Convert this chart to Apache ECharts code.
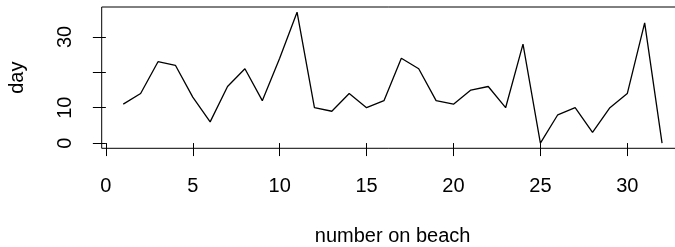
<!DOCTYPE html>
<html>
<head>
<meta charset="utf-8">
<script src="https://cdn.jsdelivr.net/npm/echarts@6/dist/echarts.min.js"></script>
<style>
html,body{margin:0;padding:0;background:#fff;}
#chart{width:675px;height:247px;}
</style>
</head>
<body>
<div id="chart"></div>
<script>
const beachNumbers = [1,2,3,4,5,6,7,8,9,10,11,12,13,14,15,16,17,18,19,20,21,22,23,24,25,26,27,28,29,30,31,32];
const dayValues = [11,14,23,22,13,6,16,21,12,24,37,10,9,14,10,12,24,21,12,11,15,16,10,28,0,8,10,3,10,14,34,0];
const xTicks = [0,5,10,15,20,25,30];
const yTicks = [0,10,20,30];
const yTickLabels = [0,10,30];

const points = beachNumbers.map((x, i) => [x, dayValues[i]]);
const font = 'Liberation Sans, Arial, sans-serif';

const chart = echarts.init(document.getElementById('chart'), null, {renderer: 'canvas'});
chart.setOption({
  animation: false,
  backgroundColor: '#fff',
  grid: {
    left: 101.7, top: 7, width: 581.9, height: 141.3,
    show: true, borderColor: '#000', borderWidth: 1, backgroundColor: 'transparent',
    containLabel: false,
    outerBoundsMode: 'none'
  },
  xAxis: {
    type: 'value', min: -0.24, max: 33.24,
    name: 'number on beach', nameLocation: 'middle', nameGap: 78,
    nameTextStyle: {fontFamily: font, fontSize: 20, color: '#000'},
    axisLine: {show: false},
    axisTick: {show: true, length: 13, lineStyle: {color: '#000', width: 1}, customValues: xTicks},
    axisLabel: {show: true, margin: 28, fontFamily: font, fontSize: 20, color: '#000', customValues: xTicks},
    splitLine: {show: false}
  },
  yAxis: {
    type: 'value', min: -1.48, max: 38.48,
    name: 'day', nameLocation: 'middle', nameGap: 74, nameRotate: 90,
    nameTextStyle: {fontFamily: font, fontSize: 20, color: '#000'},
    axisLine: {show: false},
    axisTick: {show: true, length: 13, lineStyle: {color: '#000', width: 1}, customValues: yTicks},
    axisLabel: {show: true, rotate: 90, margin: 26, fontFamily: font, fontSize: 20, color: '#000', customValues: yTickLabels},
    splitLine: {show: false}
  },
  series: [{
    type: 'line',
    data: points,
    symbol: 'none',
    lineStyle: {color: '#000', width: 1.3},
    clip: false
  }]
});
</script>
</body>
</html>
